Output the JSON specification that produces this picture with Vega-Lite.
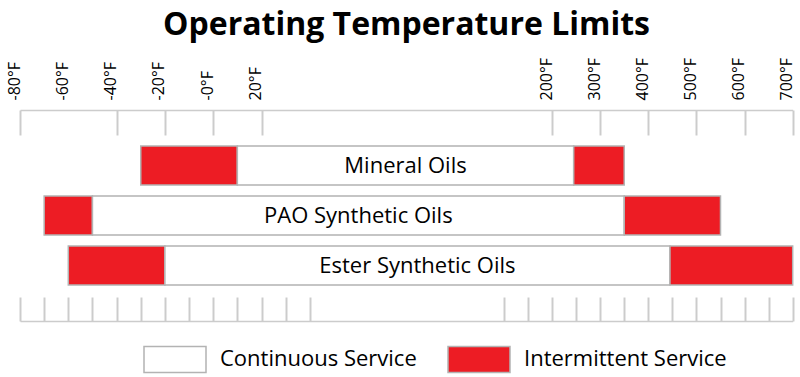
{
  "$schema": "https://vega.github.io/schema/vega-lite/v6.json",
  "autosize": "none",
  "width": 773,
  "height": 211,
  "padding": {"left": 20, "top": 110, "right": 7, "bottom": 56},
  "background": "white",
  "title": {"text": "Operating Temperature Limits", "font": "Open Sans", "fontSize": 32, "fontWeight": 700, "color": "#000000", "anchor": "middle", "offset": 15},
  "config": {"view": {"stroke": null}},
  "data": {"values": [
    {"oil": "Mineral Oils", "type": "Intermittent Service", "start": -30, "end": 10},
    {"oil": "Mineral Oils", "type": "Continuous Service", "start": 10, "end": 245},
    {"oil": "Mineral Oils", "type": "Intermittent Service", "start": 245, "end": 350},
    {"oil": "PAO Synthetic Oils", "type": "Intermittent Service", "start": -70, "end": -50},
    {"oil": "PAO Synthetic Oils", "type": "Continuous Service", "start": -50, "end": 350},
    {"oil": "PAO Synthetic Oils", "type": "Intermittent Service", "start": 350, "end": 550},
    {"oil": "Ester Synthetic Oils", "type": "Intermittent Service", "start": -60, "end": -20},
    {"oil": "Ester Synthetic Oils", "type": "Continuous Service", "start": -20, "end": 445},
    {"oil": "Ester Synthetic Oils", "type": "Intermittent Service", "start": 445, "end": 700}
  ]},
  "resolve": {"axis": {"x": "independent"}},
  "layer": [
    {
      "mark": {"type": "rect", "stroke": "#b3b3b3", "strokeWidth": 1.5, "opacity": 1},
      "encoding": {
        "x": {"field": "start", "type": "quantitative",
          "scale": {"type": "linear", "domain": [-80, 40, 100, 700], "range": [0, 289.8, 483.9, 772.7], "zero": false, "nice": false},
          "axis": {"orient": "top", "title": null, "grid": false,
            "values": [-80, -60, -40, -20, 0, 20, 200, 300, 400, 500, 600, 700],
            "labelExpr": "(datum.value === 0 ? '-0' : datum.value) + '°F'",
            "labelAngle": -90, "labelFont": "Open Sans", "labelFontSize": 16, "labelColor": "#000000",
            "labelPadding": 35, "labelOffset": -6, "labelOverlap": false, "labelBound": false, "labelFlush": false,
            "tickSize": -25, "tickColor": "#cccccc", "tickWidth": 2,
            "tickOpacity": {"condition": {"test": "datum.value === -60", "value": 0}, "value": 1},
            "domainColor": "#cccccc", "domainWidth": 1.5}},
        "x2": {"field": "end"},
        "y": {"field": "oil", "type": "nominal", "axis": null,
          "scale": {"domain": ["Mineral Oils", "PAO Synthetic Oils", "Ester Synthetic Oils"], "paddingInner": 0.22, "paddingOuter": 0.72}},
        "color": {"field": "type", "type": "nominal",
          "scale": {"domain": ["Continuous Service", "Intermittent Service"], "range": ["#ffffff", "#ed1c24"]},
          "legend": {"orient": "none", "legendX": 123, "legendY": 217, "direction": "horizontal", "title": null,
            "symbolType": "M-1,-0.42H1V0.42H-1Z", "symbolSize": 3844, "symbolStrokeColor": "#b3b3b3", "symbolStrokeWidth": 1.5, "symbolOpacity": 1,
            "labelFont": "Open Sans", "labelFontSize": 22, "labelColor": "#000000", "labelOffset": 13, "columnPadding": 28, "labelLimit": 400}}
      }
    },
    {
      "transform": [{"filter": "datum.type === 'Continuous Service'"}],
      "mark": {"type": "text", "font": "Open Sans", "fontSize": 22, "color": "#000000", "align": "center", "baseline": "middle",
        "x": {"expr": "(scale('x', datum.start) + scale('x', datum.end)) / 2"}},
      "encoding": {
        "y": {"field": "oil", "type": "nominal", "axis": null},
        "text": {"field": "oil"}
      }
    },
    {
      "mark": {"type": "rule", "opacity": 0},
      "encoding": {
        "x": {"field": "start", "type": "quantitative",
          "axis": {"orient": "bottom", "title": null, "grid": false, "labels": false,
            "values": [-80, -70, -60, -50, -40, -30, -20, -10, 0, 10, 20, 30, 40, 100, 150, 200, 250, 300, 350, 400, 450, 500, 550, 600, 650, 700],
            "tickSize": -24, "tickColor": "#cccccc", "tickWidth": 2,
            "domainColor": "#cccccc", "domainWidth": 1.5}}
      }
    }
  ]
}
